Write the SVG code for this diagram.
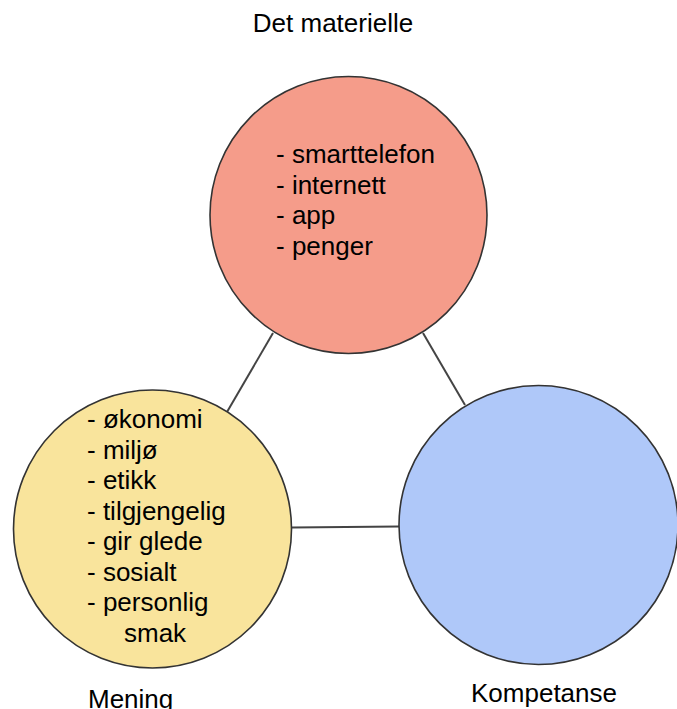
<svg xmlns="http://www.w3.org/2000/svg" width="677" height="709" viewBox="0 0 677 709">
<style>
.c{stroke:#333;stroke-width:1.6}
.l{stroke:#444;stroke-width:2;fill:none}
text{font-family:"Liberation Sans",Arial,sans-serif;font-size:26px;fill:#000}
</style>
<rect width="677" height="709" fill="#fff"/>
<g id="connectors">
<line class="l" x1="273" y1="333" x2="227" y2="412"/>
<line class="l" x1="423" y1="333" x2="465" y2="405"/>
<line class="l" x1="292" y1="527.5" x2="399" y2="526.5"/>
</g>
<g id="materielle">
<circle class="c" cx="348.5" cy="215" r="138.5" fill="#F59C8A"/>
<text x="276" y="163">- smarttelefon</text>
<text x="276" y="193.5">- internett</text>
<text x="276" y="224">- app</text>
<text x="276" y="254.5">- penger</text>
<text x="333" y="32" text-anchor="middle">Det materielle</text>
</g>
<g id="mening">
<circle class="c" cx="152.5" cy="529" r="139" fill="#F9E49C"/>
<text x="87" y="428">- økonomi</text>
<text x="87" y="458.5">- miljø</text>
<text x="87" y="489">- etikk</text>
<text x="87" y="519.5">- tilgjengelig</text>
<text x="87" y="550">- gir glede</text>
<text x="87" y="580.5">- sosialt</text>
<text x="87" y="611">- personlig</text>
<text x="124" y="641.5">smak</text>
<text x="88" y="708">Mening</text>
</g>
<g id="kompetanse">
<circle class="c" cx="538.5" cy="525" r="139.5" fill="#AFC8F9"/>
<text x="471" y="702">Kompetanse</text>
</g>
</svg>
